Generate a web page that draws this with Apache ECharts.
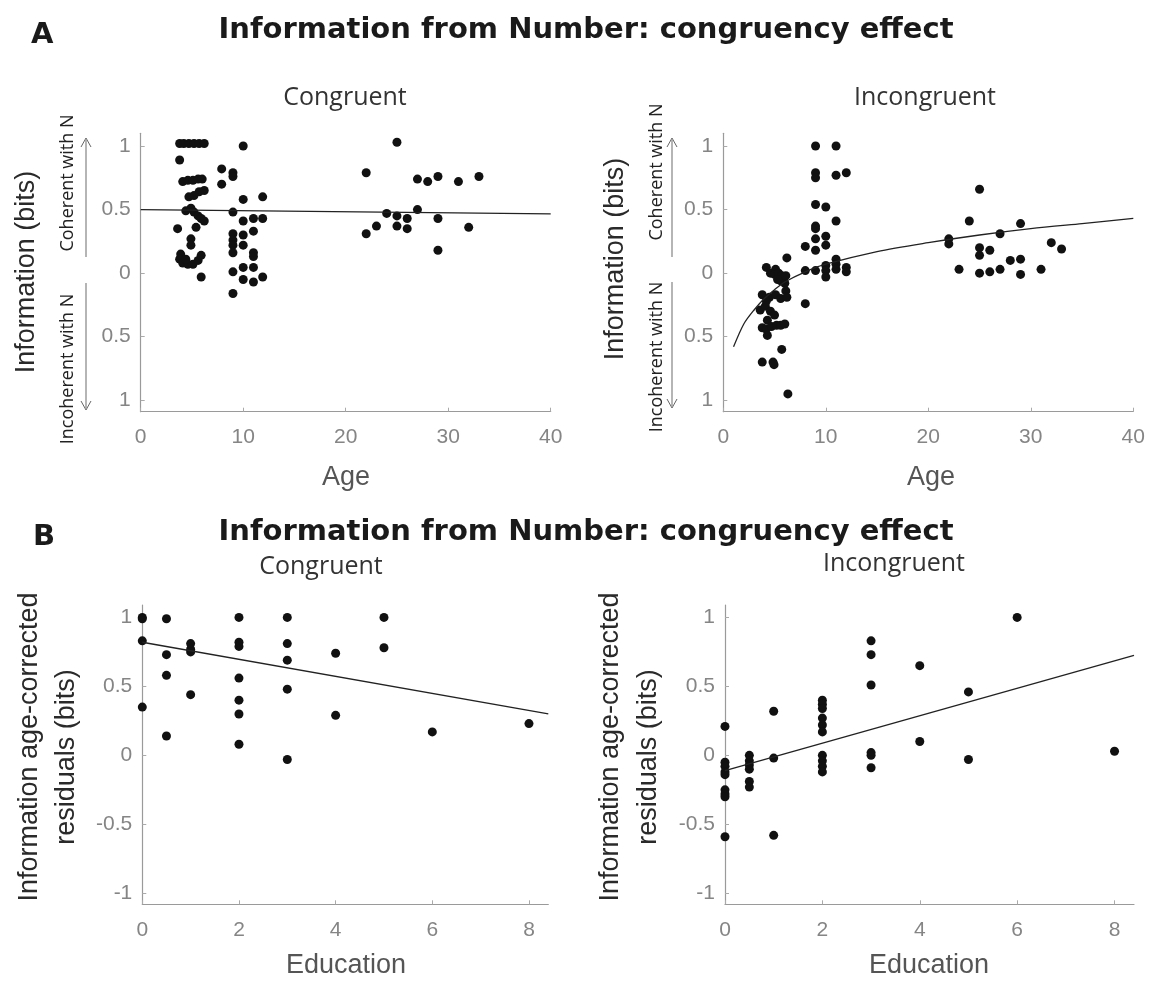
<!DOCTYPE html>
<html>
<head>
<meta charset="utf-8">
<script src="https://cdn.jsdelivr.net/npm/echarts@6.0.0/dist/echarts.min.js"></script>
<style>
  html, body { margin: 0; background: #fff; }
  #chart { width: 1153px; height: 982px; }
</style>
</head>
<body>
<div id="chart"></div>
<script>
// --- panel A, congruent: information vs age
const congAge = [3.8, 4.2, 4.7, 5.2, 5.7, 6.2, 10, 3.8, 7.9, 9, 9, 7.9, 4.1, 4.6, 5.1, 5.6, 6.0, 6.2, 5.7, 5.2, 4.7, 10, 11.9,
  4.4, 4.9, 5.2, 5.6, 5.9, 6.2, 9, 10, 11, 11.9, 3.6, 5.4, 9, 10, 11, 4.9, 9, 9, 10, 4.9, 9, 11, 11,
  3.9, 3.8, 4.1, 4.6, 5.1, 5.6, 5.9, 4.4, 10, 11, 9, 5.9, 10, 11, 11.9, 9,
  22, 22, 23, 24, 25, 25, 25, 26, 26, 27, 27, 28, 29, 29, 29, 31, 32, 33]
const congInfo = [1.02, 1.02, 1.02, 1.02, 1.02, 1.02, 1.0, 0.89, 0.82, 0.79, 0.76, 0.70, 0.72, 0.73, 0.73, 0.74, 0.74, 0.65, 0.64, 0.61, 0.60, 0.58, 0.60,
  0.49, 0.51, 0.48, 0.45, 0.43, 0.41, 0.48, 0.41, 0.43, 0.43, 0.35, 0.36, 0.31, 0.30, 0.33, 0.27, 0.26, 0.22, 0.22, 0.22, 0.16, 0.16, 0.13,
  0.15, 0.11, 0.08, 0.07, 0.07, 0.10, 0.14, 0.11, 0.045, 0.045, 0.01, -0.03, -0.05, -0.07, -0.03, -0.16,
  0.79, 0.31, 0.37, 0.47, 1.03, 0.45, 0.37, 0.43, 0.35, 0.74, 0.50, 0.72, 0.76, 0.43, 0.18, 0.72, 0.36, 0.76]
const congFitAge = [0, 40]
const congFitInfo = [0.50, 0.466]

// --- panel A, incongruent
const incongAge = [9, 11, 9, 9, 11, 12, 9, 10, 11, 9, 9, 8, 9, 9, 10, 10, 6.2, 8, 9, 10, 10, 10, 11, 11, 11, 12, 12, 8,
  4.2, 5.1, 4.6, 5.0, 5.4, 5.7, 5.9, 5.6, 6.0, 5.3, 6.1, 3.8, 4.5, 5.1, 5.6, 6.1, 6.2, 4.2, 3.6, 4.1, 4.6, 5.0, 4.3,
  3.8, 4.2, 4.7, 5.2, 5.6, 6.0, 4.3, 5.7, 3.8, 4.85, 4.95, 6.3,
  22, 22, 23, 24, 25, 25, 25, 25, 26, 26, 27, 27, 28, 29, 29, 29, 31, 32, 33]
const incongInfo = [1.0, 1.0, 0.79, 0.75, 0.77, 0.79, 0.54, 0.52, 0.41, 0.37, 0.35, 0.21, 0.27, 0.18, 0.29, 0.22, 0.12, 0.02, 0.02, 0.06, 0.02, -0.03, 0.11, 0.07, 0.03, 0.045, 0.01, -0.24,
  0.045, 0.03, 0.0, -0.01, 0.0, -0.02, -0.04, -0.06, -0.08, -0.05, -0.02, -0.17, -0.19, -0.17, -0.2, -0.14, -0.19, -0.22, -0.29, -0.26, -0.3, -0.33, -0.37,
  -0.43, -0.44, -0.42, -0.41, -0.41, -0.40, -0.49, -0.6, -0.7, -0.7, -0.72, -0.95,
  0.27, 0.23, 0.03, 0.41, 0.66, 0.20, 0.14, 0.0, 0.18, 0.01, 0.31, 0.03, 0.10, 0.39, 0.11, -0.01, 0.03, 0.24, 0.19]
const incongFitAge = [1, 2, 3, 4, 5, 6, 8, 10, 15, 20, 25, 30, 35, 40]
const incongFitInfo = [-0.58, -0.40, -0.29, -0.20, -0.13, -0.07, 0.01, 0.07, 0.17, 0.24, 0.30, 0.35, 0.39, 0.43]

// --- panel B, congruent: age-corrected residuals vs education
const congEdu = [0, 0, 0, 0, 0.5, 0.5, 0.5, 0.5, 1, 1, 1, 1, 2, 2, 2, 2, 2, 2, 2, 3, 3, 3, 3, 3, 4, 4, 5, 5, 6, 8]
const congResid = [1.0, 0.99, 0.83, 0.35, 0.99, 0.73, 0.58, 0.14, 0.81, 0.77, 0.75, 0.44, 1.0, 0.82, 0.79, 0.56, 0.40, 0.30, 0.08,
  1.0, 0.81, 0.69, 0.48, -0.03, 0.74, 0.29, 1.0, 0.78, 0.17, 0.23]
const congEduFit = [0, 8.4]
const congResidFit = [0.82, 0.30]

// --- panel B, incongruent
const incongEdu = [0, 0, 0, 0, 0, 0, 0, 0, 0, 0.5, 0.5, 0.5, 0.5, 0.5, 0.5, 1, 1, 1, 2, 2, 2, 2, 2, 2, 2, 2, 2, 2,
  3, 3, 3, 3, 3, 3, 4, 4, 5, 5, 6, 8]
const incongResid = [0.21, -0.05, -0.08, -0.12, -0.14, -0.25, -0.28, -0.30, -0.59, 0.0, -0.04, -0.07, -0.10, -0.19, -0.23,
  0.32, -0.02, -0.58, 0.40, 0.37, 0.34, 0.27, 0.22, 0.17, 0.0, -0.04, -0.08, -0.12,
  0.83, 0.73, 0.51, 0.02, 0.0, -0.09, 0.65, 0.10, 0.46, -0.03, 1.0, 0.03]
const incongEduFit = [0, 8.4]
const incongResidFit = [-0.11, 0.725]

const ageTicks = [0, 10, 20, 30, 40]
const eduTicks = [0, 2, 4, 6, 8]
const infoTicks = [-1, -0.5, 0, 0.5, 1]

const zip = (xs, ys) => xs.map((x, i) => [x, ys[i]])

const sans = "'Liberation Sans', Arial, sans-serif"
const heavy = "'DejaVu Sans', 'Liberation Sans', sans-serif"
const calibriLike = "'Open Sans', 'Noto Sans', sans-serif"

const makeX = (gridIndex, max, ticks) => ({
  type: 'value', gridIndex, min: 0, max,
  axisLine: { show: true, onZero: false, lineStyle: { color: '#9a9a9a', width: 1.2 } },
  axisTick: { show: true, inside: true, length: 4, customValues: ticks, lineStyle: { color: '#aaa' } },
  axisLabel: { customValues: ticks, color: '#858585', fontSize: 21, fontFamily: sans, margin: 15 },
  splitLine: { show: false }
})

const makeY = (gridIndex, min, max, formatter) => ({
  type: 'value', gridIndex, min, max,
  axisLine: { show: true, onZero: false, lineStyle: { color: '#9a9a9a', width: 1.2 } },
  axisTick: { show: true, inside: true, length: 4, customValues: infoTicks, lineStyle: { color: '#aaa' } },
  axisLabel: { customValues: infoTicks, color: '#858585', fontSize: 21, fontFamily: sans, margin: 10, formatter },
  splitLine: { show: false }
})

const dots = (i, data) => ({
  type: 'scatter', xAxisIndex: i, yAxisIndex: i, data, symbolSize: 9,
  itemStyle: { color: '#111', opacity: 1 }, z: 3
})
const fit = (i, data, smooth) => ({
  type: 'line', xAxisIndex: i, yAxisIndex: i, data, showSymbol: false, smooth: smooth || false,
  lineStyle: { color: '#222', width: 1.3 }, z: 4
})

const txt = (x, y, text, size, o = {}) => ({
  type: 'text', x, y, rotation: o.rot ? Math.PI / 2 : 0, z: 10,
  style: {
    text, fontSize: size, fontFamily: o.family || sans, fontWeight: o.bold ? 'bold' : 'normal',
    fill: o.color || '#333', align: o.align || 'center', verticalAlign: 'middle'
  }
})

const arrow = (x, y1, y2, up) => {
  const tip = up ? y1 : y2
  const back = up ? tip + 9 : tip - 9
  return [
    { type: 'line', shape: { x1: x, y1: up ? y1 + 2 : y1, x2: x, y2: up ? y2 : y2 - 2 }, style: { stroke: '#b5b5b5', lineWidth: 2 } },
    { type: 'polyline', shape: { points: [[x - 5, back], [x, tip], [x + 5, back]] }, style: { stroke: '#666', lineWidth: 1, fill: null } }
  ]
}

const chart = echarts.init(document.getElementById('chart'))

chart.setOption({
  animation: false,
  backgroundColor: '#fff',
  grid: [
    { left: 140.7, top: 133.3, width: 410, height: 278.4 },
    { left: 723.3, top: 133.3, width: 410, height: 278.4 },
    { left: 142.3, top: 605, width: 406, height: 299.3 },
    { left: 725, top: 605, width: 409, height: 299.3 }
  ],
  xAxis: [
    makeX(0, 40, ageTicks),
    makeX(1, 40, ageTicks),
    makeX(2, 8.4, eduTicks),
    makeX(3, 8.4, eduTicks)
  ],
  yAxis: [
    makeY(0, -1.09, 1.1, v => String(Math.abs(v))),
    makeY(1, -1.09, 1.1, v => String(Math.abs(v))),
    makeY(2, -1.08, 1.09),
    makeY(3, -1.08, 1.09)
  ],
  series: [
    dots(0, zip(congAge, congInfo)),
    fit(0, zip(congFitAge, congFitInfo)),
    dots(1, zip(incongAge, incongInfo)),
    fit(1, zip(incongFitAge, incongFitInfo), 0.3),
    dots(2, zip(congEdu, congResid)),
    fit(2, zip(congEduFit, congResidFit)),
    dots(3, zip(incongEdu, incongResid)),
    fit(3, zip(incongEduFit, incongResidFit))
  ],
  graphic: [
    txt(31, 35, 'A', 29, { bold: true, align: 'left', color: '#1a1a1a', family: heavy }),
    txt(586, 30, 'Information from Number: congruency effect', 29, { bold: true, color: '#1a1a1a', family: heavy }),
    txt(33, 537, 'B', 29, { bold: true, align: 'left', color: '#1a1a1a', family: heavy }),
    txt(586, 532, 'Information from Number: congruency effect', 29, { bold: true, color: '#1a1a1a', family: heavy }),

    txt(345, 98, 'Congruent', 25, { family: calibriLike }),
    txt(925, 98, 'Incongruent', 25, { family: calibriLike }),
    txt(321, 567, 'Congruent', 25, { family: calibriLike }),
    txt(894, 564, 'Incongruent', 25, { family: calibriLike }),

    txt(27, 272, 'Information (bits)', 27, { rot: true, color: '#2a2a2a' }),
    txt(616, 259, 'Information (bits)', 27, { rot: true, color: '#2a2a2a' }),
    txt(68, 183, 'Coherent with N', 18, { rot: true, family: calibriLike, color: '#222' }),
    txt(68, 369, 'Incoherent with N', 18, { rot: true, family: calibriLike, color: '#222' }),
    txt(657, 172, 'Coherent with N', 18, { rot: true, family: calibriLike, color: '#222' }),
    txt(657, 357, 'Incoherent with N', 18, { rot: true, family: calibriLike, color: '#222' }),
    ...arrow(86, 138, 257, true),
    ...arrow(86, 283, 410, false),
    ...arrow(672, 138, 257, true),
    ...arrow(672, 282, 408, false),

    txt(346, 478, 'Age', 27, { color: '#555' }),
    txt(931, 478, 'Age', 27, { color: '#555' }),

    txt(30, 747, 'Information age-corrected', 27, { rot: true, color: '#2a2a2a' }),
    txt(67, 757, 'residuals (bits)', 27, { rot: true, color: '#2a2a2a' }),
    txt(611, 747, 'Information age-corrected', 27, { rot: true, color: '#2a2a2a' }),
    txt(649, 757, 'residuals (bits)', 27, { rot: true, color: '#2a2a2a' }),

    txt(346, 966, 'Education', 27, { color: '#555' }),
    txt(929, 966, 'Education', 27, { color: '#555' })
  ]
})
</script>
</body>
</html>
